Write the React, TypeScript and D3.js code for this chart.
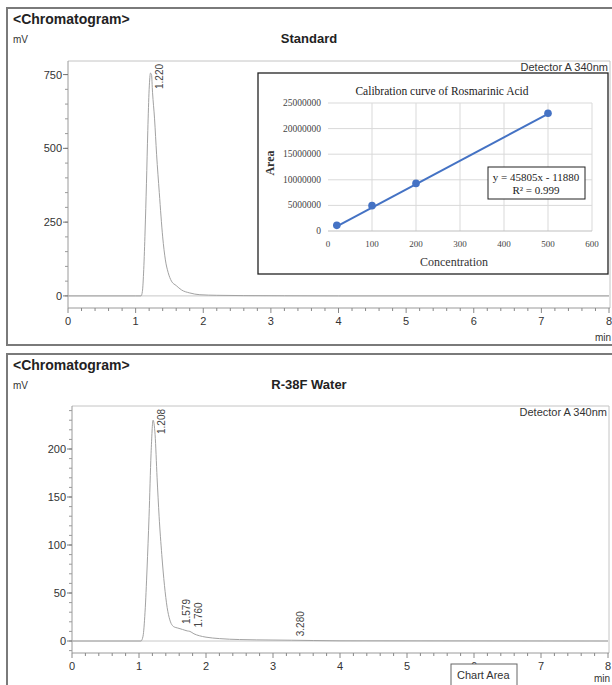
import React from "react";
import * as d3 from "d3";

// Standard chromatogram (min, mV)
const stdTime = [0, 1.0, 1.08, 1.1, 1.12, 1.14, 1.16, 1.18, 1.2, 1.22, 1.235, 1.25, 1.28, 1.31, 1.35, 1.4, 1.44, 1.48, 1.53, 1.6, 1.68, 1.8, 1.95, 2.2, 2.6, 3.2, 4.0, 8.0];
const stdSignal = [0, 0, 0, 15, 90, 220, 380, 560, 700, 755, 750, 690, 600, 480, 350, 200, 122, 80, 50, 35, 20, 10, 4, 2, 1, 0.5, 0, 0];
const stdPeakTimes = [1.22];
const stdPeakHeights = [760];
const stdPeakLabels = ["1.220"];

// R-38F Water chromatogram (min, mV)
const waterTime = [0, 1.0, 1.03, 1.06, 1.09, 1.12, 1.15, 1.18, 1.21, 1.24, 1.27, 1.3, 1.34, 1.38, 1.42, 1.46, 1.5, 1.55, 1.579, 1.65, 1.72, 1.76, 1.82, 1.9, 2.0, 2.2, 2.5, 3.0, 3.28, 3.6, 4.0, 8.0];
const waterSignal = [0, 0, 0, 5, 30, 75, 130, 195, 230, 215, 170, 130, 90, 58, 35, 22, 16, 14, 13.5, 12, 10.5, 10, 7.5, 5.5, 4, 2.5, 1.5, 1, 0.8, 0.5, 0.2, 0];
const waterPeakTimes = [1.208, 1.579, 1.76, 3.28];
const waterPeakHeights = [231, 13.5, 10, 0.8];
const waterPeakLabels = ["1.208", "1.579", "1.760", "3.280"];

// calibration inset
const calConc = [20, 100, 200, 500];
const calArea = [1100000, 4950000, 9300000, 23000000];
const calSlope = 45805;
const calIntercept = -11880;
const calXTicks = [0, 100, 200, 300, 400, 500, 600];
const calYTicks = [0, 5000000, 10000000, 15000000, 20000000, 25000000];

const timeTicks = [0, 1, 2, 3, 4, 5, 6, 7, 8];

const SANS = "'Liberation Sans', Arial, sans-serif";
const SERIF = "'Liberation Serif', 'Times New Roman', serif";

type PanelProps = {
  top: number;
  title: string;
  left: number;
  right: number;
  frameTop: number;
  frameBottom: number;
  minY: number;
  yDomain: [number, number];
  majorY: number[];
  minorStep: number;
  time: number[];
  signal: number[];
  peakTimes: number[];
  peakHeights: number[];
  peakLabels: string[];
};

const Panel = (p: PanelProps) => {
  const x = d3.scaleLinear().domain([0, 8]).range([p.left, p.right]);
  const y = d3.scaleLinear().domain(p.yDomain).range([p.frameBottom, p.frameTop]);
  const line = d3
    .line<number>()
    .x((_, i) => x(p.time[i]))
    .y((_, i) => y(p.signal[i]))
    .curve(d3.curveMonotoneX);

  const minorY = d3
    .range(Math.ceil(p.yDomain[0] / p.minorStep), Math.floor(p.yDomain[1] / p.minorStep) + 1)
    .map((k) => k * p.minorStep);
  const minorX = d3.range(0, 41).map((k) => k * 0.2);

  return (
    <g>
      <rect x={7} y={p.top} width={640} height={337} fill="none" stroke="#7a7a7a" strokeWidth={2} />
      <text x={13} y={p.top + 16} fontFamily={SANS} fontSize={14} fontWeight="bold" fill="#222">
        {"<Chromatogram>"}
      </text>
      <text x={13} y={p.top + 35} fontFamily={SANS} fontSize={10} fill="#333">mV</text>
      <text x={309} y={p.top + 35} fontFamily={SANS} fontSize={13} fontWeight="bold" textAnchor="middle" fill="#222">
        {p.title}
      </text>

      {/* frame */}
      <line x1={p.left} x2={p.right + 1} y1={p.frameTop} y2={p.frameTop} stroke="#c4c4c4" />
      <line x1={p.right + 1} x2={p.right + 1} y1={p.frameTop} y2={p.frameBottom} stroke="#c4c4c4" />
      <line x1={p.left} x2={p.left} y1={p.frameTop} y2={p.frameBottom} stroke="#9a9a9a" />
      <line x1={p.left} x2={p.right + 1} y1={p.frameBottom} y2={p.frameBottom} stroke="#9a9a9a" />

      {/* y ticks */}
      {minorY.map((v) => (
        <line key={"my" + v} x1={p.left - 3} x2={p.left} y1={y(v)} y2={y(v)} stroke="#9a9a9a" />
      ))}
      {p.majorY.map((v) => (
        <g key={"y" + v}>
          <line x1={p.left - 5} x2={p.left} y1={y(v)} y2={y(v)} stroke="#777" />
          <text x={p.left - 6} y={y(v) + 4} textAnchor="end" fontFamily={SANS} fontSize={11} fill="#333">
            {v}
          </text>
        </g>
      ))}

      {/* x ticks */}
      {minorX.map((t, i) => (
        <line key={"mx" + i} x1={x(t)} x2={x(t)} y1={p.frameBottom} y2={p.frameBottom + (i % 5 === 0 ? 5 : 3)} stroke="#888" />
      ))}
      {timeTicks.map((t) => (
        <text key={"x" + t} x={x(t)} y={p.frameBottom + 17} textAnchor="middle" fontFamily={SANS} fontSize={11} fill="#333">
          {t}
        </text>
      ))}
      <text x={p.right + 2} y={p.minY} textAnchor="end" fontFamily={SANS} fontSize={10} fill="#333">min</text>
      <text x={p.right - 1} y={p.frameTop + 10} textAnchor="end" fontFamily={SANS} fontSize={11} fill="#333">
        Detector A 340nm
      </text>

      {/* baseline + trace */}
      <line x1={p.left} x2={p.right} y1={y(0)} y2={y(0)} stroke="#c8c8c8" />
      <path d={line(p.time) || ""} fill="none" stroke="#a2a2a2" strokeWidth={1} />

      {p.peakTimes.map((t, i) => {
        const px = x(t) + 12;
        const py = Math.max(y(p.peakHeights[i]) - 4, p.frameTop + 28);
        return (
          <text
            key={"pk" + i}
            transform={`translate(${px},${py}) rotate(-90)`}
            fontFamily={SANS}
            fontSize={10}
            fill="#444"
          >
            {p.peakLabels[i]}
          </text>
        );
      })}
    </g>
  );
};

const Inset = () => {
  const bx = 258, by = 73, bw = 350, bh = 201;
  const x = d3.scaleLinear().domain([0, 600]).range([328, 592]);
  const y = d3.scaleLinear().domain([0, 25000000]).range([231, 103]);
  const [fx0, fx1] = [calConc[0], calConc[calConc.length - 1]];
  return (
    <g>
      <rect x={bx} y={by} width={bw} height={bh} fill="#fff" stroke="#222" strokeWidth={1.3} />
      <text x={442} y={95} textAnchor="middle" fontFamily={SERIF} fontSize={11.5} fill="#222">
        Calibration curve of Rosmarinic Acid
      </text>
      {calXTicks.slice(1).map((v) => (
        <line key={"gx" + v} x1={x(v)} x2={x(v)} y1={y(25000000)} y2={y(0)} stroke="#d9d9d9" />
      ))}
      {calYTicks.slice(1).map((v) => (
        <line key={"gy" + v} x1={x(0)} x2={x(600)} y1={y(v)} y2={y(v)} stroke="#d9d9d9" />
      ))}
      <line x1={x(0)} x2={x(600)} y1={y(0)} y2={y(0)} stroke="#bfbfbf" />
      {calYTicks.map((v) => (
        <text key={"ly" + v} x={321} y={y(v) + 3} textAnchor="end" fontFamily={SERIF} fontSize={9.5} fill="#444">
          {v}
        </text>
      ))}
      {calXTicks.map((v) => (
        <text key={"lx" + v} x={x(v)} y={247} textAnchor="middle" fontFamily={SERIF} fontSize={9} fill="#444">
          {v}
        </text>
      ))}
      <text transform={`translate(274,163) rotate(-90)`} textAnchor="middle" fontFamily={SERIF} fontSize={12} fontWeight="bold" fill="#333">
        Area
      </text>
      <text x={454} y={266} textAnchor="middle" fontFamily={SERIF} fontSize={12} fill="#333">
        Concentration
      </text>
      <line
        x1={x(fx0)}
        x2={x(fx1)}
        y1={y(calSlope * fx0 + calIntercept)}
        y2={y(calSlope * fx1 + calIntercept)}
        stroke="#4472c4"
        strokeWidth={2}
      />
      {calConc.map((c, i) => (
        <circle key={"pt" + i} cx={x(c)} cy={y(calArea[i])} r={3.8} fill="#4472c4" />
      ))}
      <rect x={488} y={167} width={97} height={32} fill="#fff" stroke="#222" strokeWidth={1} />
      <text x={536} y={181} textAnchor="middle" fontFamily={SERIF} fontSize={11} fill="#222">
        y = 45805x - 11880
      </text>
      <text x={536} y={194} textAnchor="middle" fontFamily={SERIF} fontSize={11} fill="#222">
        R² = 0.999
      </text>
    </g>
  );
};

export default function App() {
  return (
    <svg width={612} height={685} style={{ position: "absolute", left: 0, top: 0, background: "#fff" }}>
      <Panel
        top={8}
        title="Standard"
        left={68}
        right={609}
        frameTop={61}
        frameBottom={308}
        minY={341}
        yDomain={[-41, 796]}
        majorY={[0, 250, 500, 750]}
        minorStep={50}
        time={stdTime}
        signal={stdSignal}
        peakTimes={stdPeakTimes}
        peakHeights={stdPeakHeights}
        peakLabels={stdPeakLabels}
      />
      <Inset />
      <Panel
        top={354}
        title="R-38F Water"
        left={72}
        right={608}
        frameTop={406}
        frameBottom={653}
        minY={682}
        yDomain={[-12.5, 244.8]}
        majorY={[0, 50, 100, 150, 200]}
        minorStep={10}
        time={waterTime}
        signal={waterSignal}
        peakTimes={waterPeakTimes}
        peakHeights={waterPeakHeights}
        peakLabels={waterPeakLabels}
      />
      <g>
        <rect x={451} y={664} width={66} height={26} fill="#fff" stroke="#666" strokeWidth={1} />
        <text x={457} y={679} fontFamily={SANS} fontSize={11} fill="#333">Chart Area</text>
      </g>
    </svg>
  );
}
